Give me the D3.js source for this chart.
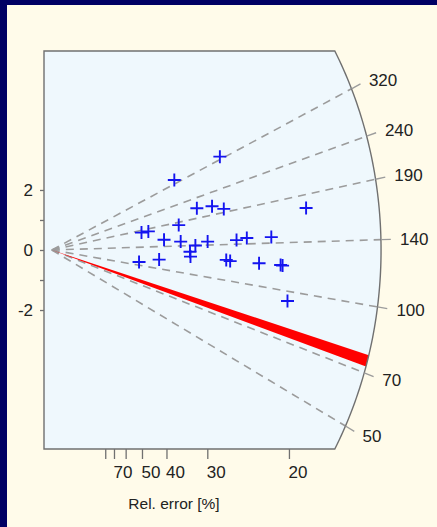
<!DOCTYPE html>
<html><head><meta charset="utf-8">
<script src="https://cdn.jsdelivr.net/npm/d3@7"></script>
<style>html,body{margin:0;padding:0;background:#000064;} svg{display:block}</style>
</head><body><svg id="c" width="437" height="527"></svg>
<script>
// ---- data ----
const precision   = [3.59,2.66,3.12,3.43,3.67,5.35,1.99,2.13,2.75,2.45,2.79,3.09,2.98,2.99,3.34,3.93,4.14,4.64,1.94,2.35,3.72,3.80,4.39,4.83,4.87,4.97];
const stdEstimate = [3.11,2.33,1.39,1.46,1.37,1.40,0.58,0.62,0.83,0.34,0.28,0.15,-0.06,-0.22,0.28,0.33,0.40,0.43,-0.40,-0.32,-0.33,-0.37,-0.44,-0.50,-0.52,-1.70];
const rayValues   = [50,70,100,140,190,240,320];
const centralValue = 133;
const bandCentre = 75, bandError = 2.4;
const relErrTicks  = [80,70,60,50,40,30,20];
const relErrLabels = [70,50,40,30,20];
const yTicks  = [-2,-1,0,1,2];
const yLabels = [-2,0,2];
const xTitle = "Rel. error [%]";

// ---- layout ----
const svg = d3.select("#c");
const W = 437, H = 527;
svg.append("rect").attr("x",7).attr("y",5).attr("width",W-7).attr("height",H-5).attr("fill","#fffbea");

const x = d3.scaleLinear().domain([0,5.94]).range([44,335]);
const y = d3.scaleLinear().domain([-6.63,6.63]).range([449,51]);
const rayOriginP = 0.16;
const arcRx = 6.72, arcRz = 12.97;   // arc radii in data units
const ox = x(rayOriginP), oy = y(0);
const a = x(arcRx) - x(0), b = y(0) - y(arcRz);
const font = "'Liberation Sans', Arial, Helvetica, sans-serif";

function dirOf(v){ const m = Math.log(v/centralValue); return [x(1)-x(0), y(m)-y(0)]; }
function hitT(d){ return 1/Math.sqrt((d[0]/a)**2 + (d[1]/b)**2); }
function phiOf(v){ const d=dirOf(v), t=hitT(d); return Math.atan2(t*d[1]/b, t*d[0]/a); }
function arcPt(phi){ return [ox + a*Math.cos(phi), oy + b*Math.sin(phi)]; }

// panel shape
const yTop = y.range()[1], yBot = y.range()[0], xL = x(0);
const phi0 = Math.asin((yTop-oy)/b), phi1 = Math.asin((yBot-oy)/b);
const panelPts = [[xL,yTop]];
for(let i=0;i<=80;i++){ panelPts.push(arcPt(phi0 + (phi1-phi0)*i/80)); }
panelPts.push([xL,yBot]);
const panelPath = "M" + panelPts.map(p=>p.join(",")).join("L") + "Z";
svg.append("defs").append("clipPath").attr("id","pc").append("path").attr("d",panelPath);
svg.append("path").attr("d",panelPath).attr("fill","#eff8fd");

const g = svg.append("g").attr("clip-path","url(#pc)");
// dashed rays
rayValues.forEach(v=>{
  const d=dirOf(v), t=hitT(d);
  g.append("line").attr("x1",ox).attr("y1",oy).attr("x2",ox+t*d[0]).attr("y2",oy+t*d[1])
   .attr("stroke","#9c9c9c").attr("stroke-width",1.6).attr("stroke-dasharray","8 6");
});
// red band
const pu = phiOf(bandCentre+bandError), pl = phiOf(bandCentre-bandError);
const bandPts = [[ox,oy]];
for(let i=0;i<=20;i++){ bandPts.push(arcPt(pu + (pl-pu)*i/20)); }
g.append("path").attr("d","M"+bandPts.map(p=>p.join(",")).join("L")+"Z").attr("fill","#ff0000");

// points
g.selectAll("path.pt").data(precision.map((p,i)=>[p,stdEstimate[i]])).join("path")
  .attr("class","pt")
  .attr("d",d=>{const cx=x(d[0]), cy=y(d[1]), s=6.5; return `M${cx-s},${cy}H${cx+s}M${cx},${cy-s}V${cy+s}`;})
  .attr("stroke","#1414f0").attr("stroke-width",1.9).attr("fill","none");

// panel border
svg.append("path").attr("d",panelPath).attr("fill","none").attr("stroke","#707070").attr("stroke-width",1.4);

// ray ticks and labels
rayValues.forEach(v=>{
  const d=dirOf(v), t=hitT(d);
  svg.append("line").attr("x1",ox+t*1.0*d[0]).attr("y1",oy+t*1.0*d[1])
    .attr("x2",ox+t*1.03*d[0]).attr("y2",oy+t*1.03*d[1]).attr("stroke","#9c9c9c").attr("stroke-width",1.4);
  svg.append("text").attr("x",ox+t*1.058*d[0]).attr("y",oy+t*1.058*d[1]).attr("dy","0.36em")
    .attr("font-family",font).attr("font-size",17).attr("fill","#222").text(v);
});

// y axis
const ya = svg.append("g").attr("transform",`translate(${xL},0)`)
  .call(d3.axisLeft(y).tickValues(yTicks).tickSize(4).tickPadding(7)
    .tickFormat(d=>yLabels.includes(d)? String(d).replace("\u2212","-") : ""));
ya.select(".domain").remove();
ya.selectAll("line").attr("stroke","#707070").attr("stroke-width",1.3);
ya.selectAll("text").attr("font-family",font).attr("font-size",17).attr("fill","#222");

// x axis (relative error)
const xa = svg.append("g").attr("transform",`translate(0,${yBot})`)
  .call(d3.axisBottom(x).tickValues(relErrTicks.map(r=>100/r)).tickSize(10).tickPadding(7)
    .tickFormat(p=>{const r=Math.round(100/p); return relErrLabels.includes(r)? r : "";}));
xa.select(".domain").remove();
xa.selectAll("line").attr("stroke","#707070").attr("stroke-width",1.3);
xa.selectAll("text").attr("font-family",font).attr("font-size",17).attr("fill","#222")
  .attr("text-anchor","start").attr("dx",-1);

svg.append("text").attr("x",174).attr("y",509).attr("text-anchor","middle")
  .attr("font-family",font).attr("font-size",15.5).attr("fill","#222").text(xTitle);
</script></body></html>
